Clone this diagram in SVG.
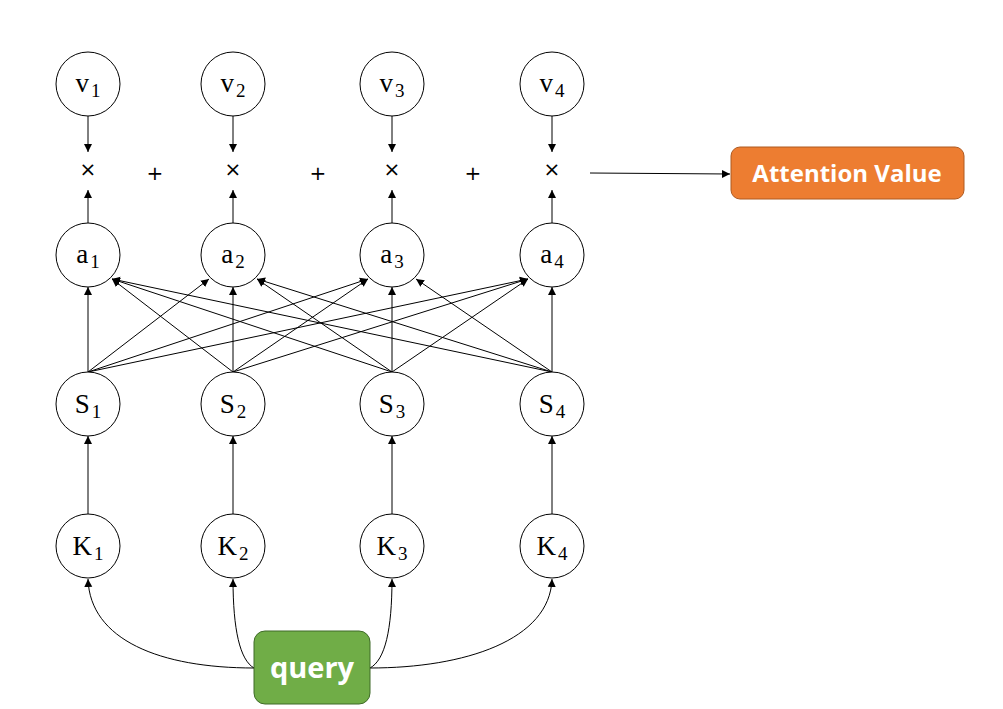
<svg xmlns="http://www.w3.org/2000/svg" width="1003" height="709" viewBox="0 0 1003 709">
<defs>
<marker id="ah" markerUnits="userSpaceOnUse" markerWidth="9" markerHeight="9" refX="8" refY="4" orient="auto" viewBox="0 0 9 8">
<path d="M0,0 L8,4 L0,8 z" fill="#000"/>
</marker>
<style>
.c{fill:#fff;stroke:#000;stroke-width:1}
.t{font-family:"Liberation Serif","DejaVu Serif",serif;font-size:27px;fill:#000;text-anchor:middle}
.s{font-size:19px}
.op{font-family:"DejaVu Sans","Liberation Sans",sans-serif;font-size:20px;fill:#000;text-anchor:middle}
.e{fill:none;stroke:#000;stroke-width:1;marker-end:url(#ah)}
.b{font-family:"Open Sans","DejaVu Sans",sans-serif;font-weight:bold;fill:#fff;text-anchor:middle}
</style>
</defs>
<rect width="1003" height="709" fill="#fff"/>

<g id="connectors">
<path class="e" d="M88,116 L88,152"/>
<path class="e" d="M233,116 L233,152"/>
<path class="e" d="M392,116 L392,152"/>
<path class="e" d="M552,116 L552,152"/>
<path class="e" d="M88,223 L88,190"/>
<path class="e" d="M233,223 L233,190"/>
<path class="e" d="M392,223 L392,190"/>
<path class="e" d="M552,223 L552,190"/>
<path class="e" d="M590,173 L730,174"/>
<path class="e" d="M88,372 L88,287"/>
<path class="e" d="M233,372 L233,287"/>
<path class="e" d="M392,372 L392,287"/>
<path class="e" d="M552,372 L552,287"/>
<path class="e" d="M88,372 L209,279"/>
<path class="e" d="M88,372 L368,279"/>
<path class="e" d="M88,372 L528,279"/>
<path class="e" d="M233,372 L112,279"/>
<path class="e" d="M233,372 L368,279"/>
<path class="e" d="M233,372 L528,279"/>
<path class="e" d="M392,372 L112,279"/>
<path class="e" d="M392,372 L257,279"/>
<path class="e" d="M392,372 L528,279"/>
<path class="e" d="M552,372 L112,279"/>
<path class="e" d="M552,372 L257,279"/>
<path class="e" d="M552,372 L416,279"/>
<path class="e" d="M88,514 L88,436"/>
<path class="e" d="M233,514 L233,436"/>
<path class="e" d="M392,514 L392,436"/>
<path class="e" d="M552,514 L552,436"/>
<path class="e" d="M254,668 C160,668 90,640 88,579"/>
<path class="e" d="M254,668 C240,660 233,630 233,579"/>
<path class="e" d="M370,668 C385,660 392,630 392,579"/>
<path class="e" d="M370,668 C465,668 550,640 552,579"/>
</g>

<g id="v1"><circle class="c" cx="88" cy="84" r="32"/><text class="t" x="88" y="92">v<tspan class="s" dx="2" dy="5">1</tspan></text></g>
<g id="v2"><circle class="c" cx="233" cy="84" r="32"/><text class="t" x="233" y="92">v<tspan class="s" dx="2" dy="5">2</tspan></text></g>
<g id="v3"><circle class="c" cx="392" cy="84" r="32"/><text class="t" x="392" y="92">v<tspan class="s" dx="2" dy="5">3</tspan></text></g>
<g id="v4"><circle class="c" cx="552" cy="84" r="32"/><text class="t" x="552" y="92">v<tspan class="s" dx="2" dy="5">4</tspan></text></g>

<g id="ops">
<text class="op" x="88" y="176">×</text>
<text class="op" x="233" y="176">×</text>
<text class="op" x="392" y="176">×</text>
<text class="op" x="552" y="176">×</text>
<text class="op" x="155" y="180">+</text>
<text class="op" x="318" y="180">+</text>
<text class="op" x="473" y="180">+</text>
</g>

<g id="a1"><circle class="c" cx="88" cy="255" r="32"/><text class="t" x="88" y="263">a<tspan class="s" dx="2" dy="5">1</tspan></text></g>
<g id="a2"><circle class="c" cx="233" cy="255" r="32"/><text class="t" x="233" y="263">a<tspan class="s" dx="2" dy="5">2</tspan></text></g>
<g id="a3"><circle class="c" cx="392" cy="255" r="32"/><text class="t" x="392" y="263">a<tspan class="s" dx="2" dy="5">3</tspan></text></g>
<g id="a4"><circle class="c" cx="552" cy="255" r="32"/><text class="t" x="552" y="263">a<tspan class="s" dx="2" dy="5">4</tspan></text></g>

<g id="S1"><circle class="c" cx="88" cy="404" r="32"/><text class="t" x="88" y="413">S<tspan class="s" dx="2" dy="5">1</tspan></text></g>
<g id="S2"><circle class="c" cx="233" cy="404" r="32"/><text class="t" x="233" y="413">S<tspan class="s" dx="2" dy="5">2</tspan></text></g>
<g id="S3"><circle class="c" cx="392" cy="404" r="32"/><text class="t" x="392" y="413">S<tspan class="s" dx="2" dy="5">3</tspan></text></g>
<g id="S4"><circle class="c" cx="552" cy="404" r="32"/><text class="t" x="552" y="413">S<tspan class="s" dx="2" dy="5">4</tspan></text></g>

<g id="K1"><circle class="c" cx="88" cy="546" r="32"/><text class="t" x="88" y="555">K<tspan class="s" dx="2" dy="5">1</tspan></text></g>
<g id="K2"><circle class="c" cx="233" cy="546" r="32"/><text class="t" x="233" y="555">K<tspan class="s" dx="2" dy="5">2</tspan></text></g>
<g id="K3"><circle class="c" cx="392" cy="546" r="32"/><text class="t" x="392" y="555">K<tspan class="s" dx="2" dy="5">3</tspan></text></g>
<g id="K4"><circle class="c" cx="552" cy="546" r="32"/><text class="t" x="552" y="555">K<tspan class="s" dx="2" dy="5">4</tspan></text></g>

<g id="attention">
<rect x="731" y="147" width="233" height="52" rx="9" fill="#ED7D31" stroke="#AE5A21" stroke-width="1"/>
<text class="b" x="847" y="182" font-size="24">Attention Value</text>
</g>

<g id="query">
<rect x="254" y="631" width="116" height="73" rx="11" fill="#70AD47" stroke="#3F6B28" stroke-width="1"/>
<text class="b" x="312" y="678" font-size="29">query</text>
</g>
</svg>
